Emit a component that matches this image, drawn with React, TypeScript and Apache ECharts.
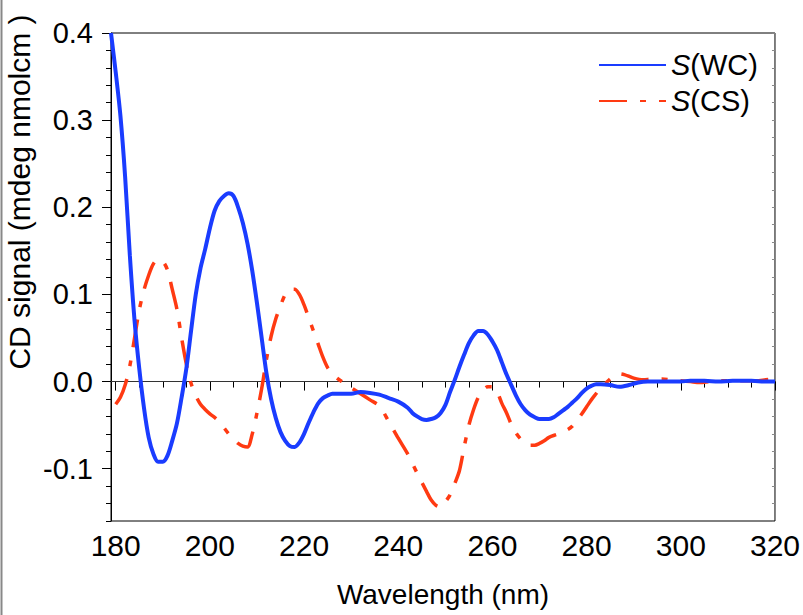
import { useEffect, useRef } from 'react';
import * as echarts from 'echarts';

// ---- Data ----
const wavelengthWC = [
  179, 180, 181, 182, 183, 184, 185, 186, 187, 188,
  189, 190, 191, 192, 193, 194, 195, 196, 197, 198,
  199, 200, 201, 202, 203, 204, 205, 206, 207, 208,
  209, 210, 211, 212, 213, 214, 215, 216, 217, 218,
  219, 220, 221, 222, 223, 224, 225, 226, 228, 230,
  232, 234, 236, 238, 240, 242, 243, 244, 245, 246,
  247, 248, 249, 250, 251, 252, 253, 254, 255, 256,
  257, 258, 259, 260, 261, 262, 263, 264, 265, 266,
  267, 268, 269, 270, 271, 272, 273, 274, 275, 276,
  277, 278, 279, 280, 281, 282, 283, 285, 287, 289,
  291, 293, 296, 300, 302, 305, 308, 311, 315, 318, 320,
];
const signalWC = [
  0.400, 0.355, 0.305, 0.235, 0.145, 0.070, 0.015, -0.030, -0.064, -0.083,
  -0.092, -0.092, -0.085, -0.068, -0.048, -0.018, 0.015, 0.058, 0.100, 0.130,
  0.152, 0.176, 0.196, 0.207, 0.213, 0.216, 0.213, 0.200, 0.182, 0.158,
  0.127, 0.090, 0.050, 0.010, -0.020, -0.042, -0.058, -0.068, -0.074, -0.075,
  -0.070, -0.060, -0.047, -0.035, -0.025, -0.019, -0.016, -0.014, -0.014, -0.014,
  -0.012, -0.013, -0.015, -0.019, -0.023, -0.030, -0.036, -0.040, -0.043, -0.044,
  -0.043, -0.041, -0.036, -0.027, -0.012, 0.002, 0.017, 0.031, 0.044, 0.053,
  0.058, 0.058, 0.054, 0.046, 0.036, 0.022, 0.008, -0.004, -0.016, -0.026,
  -0.033, -0.038, -0.041, -0.043, -0.043, -0.043, -0.041, -0.037, -0.033, -0.029,
  -0.024, -0.019, -0.013, -0.008, -0.005, -0.003, -0.003, -0.004, -0.006, -0.004,
  -0.001, 0.000, 0.000, 0.000, 0.001, 0.001, 0.000, 0.001, 0.001, 0.000, 0.000,
];

const wavelengthCS = [
  180, 181, 182, 183, 184, 185, 186, 187, 188, 189,
  190, 191, 192, 193, 194, 195, 196, 197, 198, 199,
  200, 201, 202, 203, 204, 205, 206, 207, 208, 209,
  210, 211, 212, 213, 214, 215, 216, 217, 218, 219,
  220, 221, 222, 223, 224, 225, 226, 227, 228, 230,
  232, 234, 236, 238, 240, 242, 244, 246, 247, 248,
  249, 250, 251, 252, 253, 254, 255, 256, 257, 258,
  259, 260, 261, 262, 263, 264, 265, 266, 267, 268,
  269, 270, 271, 272, 274, 276, 277, 278, 279, 280,
  281, 282, 283, 284, 285, 286, 287, 288, 290, 292,
  294, 296, 298, 300, 302, 304, 306, 308, 310, 312,
  314, 316, 318, 320,
];
const signalCS = [
  -0.026, -0.018, -0.004, 0.018, 0.050, 0.082, 0.105, 0.122, 0.135, 0.140,
  0.138, 0.128, 0.106, 0.083, 0.050, 0.020, -0.002, -0.016, -0.026, -0.032,
  -0.037, -0.041, -0.046, -0.053, -0.060, -0.066, -0.071, -0.074, -0.075, -0.060,
  -0.036, -0.008, 0.025, 0.052, 0.072, 0.087, 0.100, 0.106, 0.106, 0.100,
  0.088, 0.073, 0.058, 0.043, 0.028, 0.016, 0.009, 0.004, 0.000, -0.007,
  -0.014, -0.021, -0.028, -0.046, -0.065, -0.083, -0.105, -0.126, -0.136, -0.142,
  -0.144, -0.138, -0.130, -0.117, -0.102, -0.075, -0.050, -0.032, -0.018, -0.010,
  -0.006, -0.006, -0.012, -0.025, -0.036, -0.049, -0.059, -0.066, -0.071, -0.073,
  -0.073, -0.071, -0.068, -0.064, -0.060, -0.055, -0.051, -0.044, -0.037, -0.029,
  -0.021, -0.014, -0.007, -0.002, 0.003, 0.007, 0.009, 0.008, 0.004, 0.002,
  0.003, 0.003, 0.002, 0.001, 0.000, -0.001, 0.000, 0.001, 0.001, 0.001,
  0.001, 0.001, 0.002, 0.003,
];

const seriesNames = ['S(WC)', 'S(CS)'];
const xTickLabels = [180, 200, 220, 240, 260, 280, 300, 320];
const xMinorTicks = [185, 190, 195, 205, 210, 215, 225, 230, 235, 245, 250, 255, 265, 270, 275, 285, 290, 295, 305, 310, 315];
const yTickLabels = [-0.1, 0.0, 0.1, 0.2, 0.3, 0.4];
const xTitle = 'Wavelength (nm)';
const yTitle = 'CD signal (mdeg nmolcm )';

const FONT = 'Liberation Sans, Arial, Helvetica, sans-serif';

export default function App() {
  const ref = useRef<HTMLDivElement>(null);
  useEffect(() => {
    if (!ref.current) return;
    const chart = echarts.init(ref.current, null, { renderer: 'svg' });
    const wcData = wavelengthWC.map((w, i) => [w, signalWC[i]]);
    const csData = wavelengthCS.map((w, i) => [w, signalCS[i]]);
    const option: any = {
      animation: false,
      backgroundColor: '#fff',
      textStyle: { fontFamily: FONT },
      grid: {
        left: 111, right: 27, top: 33, bottom: 94,
        show: true, borderColor: '#000', borderWidth: 1, backgroundColor: 'transparent',
      },
      legend: {
        orient: 'vertical', left: 593, top: 45,
        itemWidth: 67, itemHeight: 14, itemGap: 6,
        data: seriesNames,
        itemStyle: { opacity: 0 },
        formatter: (name: string) => '{it|' + name.slice(0, 1) + '}' + name.slice(1),
        textStyle: {
          fontSize: 29, color: '#000', fontFamily: FONT, lineHeight: 30,
          rich: { it: { fontStyle: 'italic', fontSize: 29, fontFamily: FONT, lineHeight: 30, color: '#000' } },
        },
      },
      xAxis: [
        {
          type: 'value', min: 179, max: 320, position: 'bottom',
          name: xTitle, nameLocation: 'middle', nameGap: 59,
          nameTextStyle: { fontSize: 28, color: '#000', fontFamily: FONT },
          axisLine: { show: true, lineStyle: { color: '#000', width: 1 } },
          axisTick: { show: true, customValues: xTickLabels, length: 9, lineStyle: { color: '#000' } },
          axisLabel: { customValues: xTickLabels, fontSize: 30, color: '#000', margin: 9, fontFamily: FONT },
          splitLine: { show: false },
        },
        {
          type: 'value', min: 179, max: 320, position: 'bottom',
          axisLine: { show: false },
          axisTick: { show: true, customValues: xMinorTicks, length: 6, lineStyle: { color: '#000' } },
          axisLabel: { show: false },
          splitLine: { show: false },
        },
      ],
      yAxis: [
        {
          type: 'value', min: -0.16, max: 0.4, position: 'left',
          axisLine: { show: true, lineStyle: { color: '#000', width: 1 } },
          axisTick: { show: true, customValues: yTickLabels, length: 9, lineStyle: { color: '#000' } },
          axisLabel: {
            customValues: yTickLabels, fontSize: 29, color: '#000', margin: 18, fontFamily: FONT,
            formatter: (v: number) => v.toFixed(1),
          },
          splitLine: { show: false },
        },
        {
          type: 'value', min: -0.16, max: 0.4, interval: 0.02, position: 'left',
          axisLine: { show: false },
          axisTick: { show: true, length: 5, lineStyle: { color: '#000' } },
          axisLabel: { show: false },
          splitLine: { show: false },
        },
        {
          type: 'value', min: -0.16, max: 0.4, interval: 0.02, position: 'right',
          axisLine: { show: false },
          axisTick: { show: true, inside: true, length: 3, lineStyle: { color: '#888' } },
          axisLabel: { show: false },
          splitLine: { show: false },
        },
      ],
      graphic: [
        {
          type: 'line', shape: { x1: 1.5, y1: 0, x2: 1.5, y2: 615 },
          style: { stroke: '#888', lineWidth: 2 },
        },
        {
          type: 'text', x: 19, y: 192, rotation: Math.PI / 2,
          style: {
            text: yTitle, fontSize: 30, fontFamily: FONT, fill: '#000',
            align: 'center', verticalAlign: 'middle',
          },
        },
      ],
      series: [
        {
          name: seriesNames[0], type: 'line', data: wcData,
          xAxisIndex: 0, yAxisIndex: 0,
          symbol: 'none', smooth: 0.3,
          lineStyle: { color: '#1a3cff', width: 4 },
          itemStyle: { color: '#1a3cff' },
          z: 3,
          markLine: {
            silent: true, symbol: ['none', 'none'], label: { show: false },
            lineStyle: { color: '#333', width: 1, type: 'solid' },
            data: [{ yAxis: 0 }],
            z: 1,
          },
        },
        {
          name: seriesNames[1], type: 'line', data: csData,
          xAxisIndex: 0, yAxisIndex: 0,
          symbol: 'none', smooth: 0.3,
          lineStyle: { color: '#ff3a12', width: 3.5, type: [28, 13, 6, 13] },
          itemStyle: { color: '#ff3a12' },
          z: 2,
        },
      ],
    };
    chart.setOption(option);
    return () => chart.dispose();
  }, []);
  return (
    <div
      ref={ref}
      style={{ position: 'absolute', left: 0, top: 0, width: 803, height: 615 }}
    />
  );
}
